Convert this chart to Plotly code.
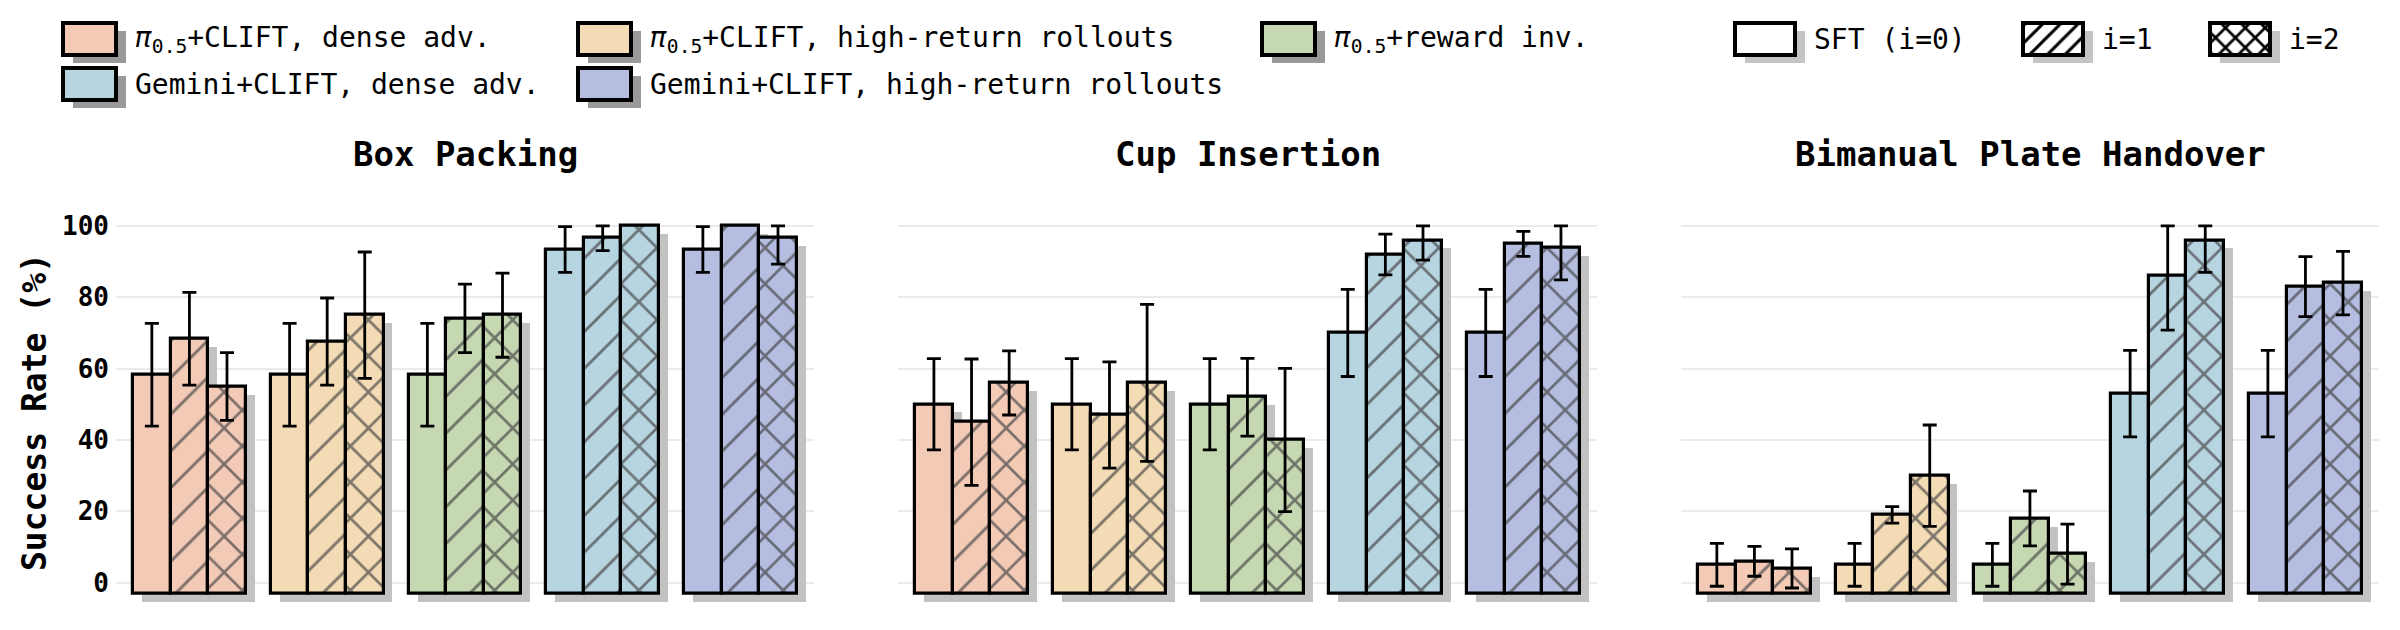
import plotly.graph_objects as go

# ---- data ----
tasks = ["Box Packing", "Cup Insertion", "Bimanual Plate Handover"]
methods = [
    "<i>π</i><sub>0.5</sub>+CLIFT, dense adv.",
    "<i>π</i><sub>0.5</sub>+CLIFT, high-return rollouts",
    "<i>π</i><sub>0.5</sub>+reward inv.",
    "Gemini+CLIFT, dense adv.",
    "Gemini+CLIFT, high-return rollouts",
]
method_colors = ["#F3CAB6", "#F2DBB5", "#C6D8B2", "#B7D4E1", "#B5BEE1"]
iterations = ["SFT (i=0)", "i=1", "i=2"]
iter_hatch = ["", "/", "x"]

# success rate (%) per method, for i=0,1,2
box_mean = [[58.3, 68.4, 55.0], [58.3, 67.6, 75.0], [58.3, 74.1, 75.0], [93.4, 96.7, 100.0], [93.4, 100.0, 96.7]]
box_err = [[14.4, 13.0, 9.5], [14.4, 12.2, 17.7], [14.4, 9.6, 11.8], [6.4, 3.6, 0.0], [6.4, 0.0, 7.4]]

cup_mean = [[50.0, 45.0, 56.0], [50.0, 47.0, 56.0], [50.0, 52.0, 40.0], [70.0, 92.0, 96.0], [70.0, 95.0, 94.0]]
cup_err = [[12.8, 17.7, 9.0], [12.8, 14.9, 22.0], [12.8, 10.9, 20.1], [12.2, 5.7, 5.6], [12.2, 3.5, 9.1]]

hand_mean = [[5.0, 6.0, 4.0], [5.0, 19.0, 30.0], [5.0, 18.0, 8.0], [53.0, 86.0, 96.0], [53.0, 83.0, 84.0]]
hand_err = [[6.0, 4.2, 5.5], [6.0, 2.3, 14.2], [6.0, 7.7, 8.4], [12.1, 15.2, 9.0], [12.1, 8.4, 8.9]]

all_mean = [box_mean, cup_mean, hand_mean]
all_err = [box_err, cup_err, hand_err]

# ---- style ----
# page is 2400x630, the html body has an 8px margin, so the figure is a bit smaller
OX = OY = 8
W, H = 2400 - 2 * OX, 630 - 2 * OY
FONT = "DejaVu Sans Mono"
BW = 0.2727          # bar width
BASE = -3.0          # bars start slightly below zero
SDX, SDY = 0.065, 2.2  # drop shadow offset (x units, y units)
SHADOW = "#c2c2c2"
HATCH_FG = "#333333"


def px(xp):
    return (xp - OX) / W


def py(yp):
    return 1 - (yp - OY) / H


x_domains = [[px(116), px(814)], [px(898), px(1597)], [px(1681), px(2379)]]
y_domain = [py(611.2), py(211.7)]

fig = go.Figure()

for p in range(3):
    xa = "x" if p == 0 else "x%d" % (p + 1)
    ya = "y" if p == 0 else "y%d" % (p + 1)
    mean = all_mean[p]
    err = all_err[p]

    # shadows
    sx, sl = [], []
    for m in range(5):
        for k in range(3):
            sx.append(m + (k - 1) * BW + SDX)
            sl.append(mean[m][k] - BASE)
    fig.add_trace(go.Bar(x=sx, y=sl, base=BASE - SDY, width=BW, xaxis=xa, yaxis=ya,
                         marker=dict(color=SHADOW, line=dict(width=0)),
                         showlegend=False, hoverinfo="skip"))

    # bars, one trace per iteration
    for k in range(3):
        bx = [m + (k - 1) * BW for m in range(5)]
        bl = [mean[m][k] - BASE for m in range(5)]
        marker = dict(color=method_colors, line=dict(color="black", width=3.2))
        if iter_hatch[k]:
            marker["pattern"] = dict(shape=iter_hatch[k], fgcolor=HATCH_FG, fgopacity=0.68,
                                     size=26 if k == 1 else 25.5,
                                     solidity=0.11 if k == 1 else 0.2)
        fig.add_trace(go.Bar(x=bx, y=bl, base=BASE, width=BW, xaxis=xa, yaxis=ya,
                             marker=marker, name=iterations[k], showlegend=False))

    # error bars
    ex, ey, eup, edn = [], [], [], []
    for m in range(5):
        for k in range(3):
            if err[m][k] <= 0:
                continue
            ex.append(m + (k - 1) * BW)
            ey.append(mean[m][k])
            eup.append(min(err[m][k], 100 - mean[m][k]))
            edn.append(err[m][k])
    fig.add_trace(go.Scatter(x=ex, y=ey, mode="markers", xaxis=xa, yaxis=ya,
                             marker=dict(size=1, color="rgba(0,0,0,0)"),
                             error_y=dict(type="data", array=eup, arrayminus=edn, symmetric=False,
                                          color="black", thickness=2.8, width=7),
                             showlegend=False, hoverinfo="skip"))

# ---- legend drawn on an overlay axis in page pixel units ----
LX = "x4"
LY = "y4"
leg_swatches = [  # (left px, top px, width px, fill, hatch, shadow)
    (63, 23, 53, method_colors[0], "", "#999999"),
    (578, 23, 53, method_colors[1], "", "#999999"),
    (1262, 23, 53, method_colors[2], "", "#999999"),
    (63, 68, 53, method_colors[3], "", "#999999"),
    (578, 68, 53, method_colors[4], "", "#999999"),
    (1735, 23, 60, "white", "", "#c4c4c4"),
    (2023, 23, 60, "white", "/", "#c4c4c4"),
    (2210, 23, 60, "white", "x", "#c4c4c4"),
]
leg_labels = methods + iterations
for (lx, ty, sw, fill, hatch, sh), label in zip(leg_swatches, leg_labels):
    fig.add_trace(go.Bar(x=[lx + sw / 2 + 10], y=[32], base=ty + 8, width=sw, xaxis=LX, yaxis=LY,
                         marker=dict(color=sh, line=dict(width=0)), showlegend=False, hoverinfo="skip"))
    marker = dict(color=fill, line=dict(color="black", width=4))
    if hatch:
        marker["pattern"] = dict(shape=hatch, fgcolor="black", fgopacity=1,
                                 size=12.5 if hatch == "/" else 14,
                                 solidity=0.24 if hatch == "/" else 0.35)
    fig.add_trace(go.Bar(x=[lx + sw / 2], y=[32], base=ty, width=sw, xaxis=LX, yaxis=LY,
                         marker=marker, showlegend=False, hoverinfo="skip"))
    fig.add_annotation(text=label, xref="paper", yref="paper", x=px(lx + sw + 17),
                       y=py(ty + 16), xanchor="left", yanchor="middle", showarrow=False,
                       font=dict(family=FONT, size=28, color="black"))

# ---- titles ----
for p in range(3):
    fig.add_annotation(text="<b>%s</b>" % tasks[p], xref="paper", yref="paper",
                       x=(x_domains[p][0] + x_domains[p][1]) / 2, y=py(154),
                       xanchor="center", yanchor="middle", showarrow=False,
                       font=dict(family=FONT, size=34, color="black"))
fig.add_annotation(text="<b>Success Rate (%)</b>", xref="paper", yref="paper", x=px(34), y=py(412),
                   textangle=-90, xanchor="center", yanchor="middle", showarrow=False,
                   font=dict(family=FONT, size=33, color="black"))

# ---- axes ----
layout = dict(
    width=W, height=H, margin=dict(l=0, r=0, t=0, b=0),
    paper_bgcolor="white", plot_bgcolor="white", barmode="overlay", bargap=0,
    font=dict(family=FONT, color="black"),
    xaxis4=dict(domain=[0, 1], range=[OX, OX + W], visible=False, anchor="y4"),
    yaxis4=dict(domain=[py(120), 1], range=[120, OY], visible=False, anchor="x4"),
)
for p in range(3):
    sfx = "" if p == 0 else str(p + 1)
    layout["xaxis" + sfx] = dict(domain=x_domains[p], range=[-0.533, 4.534], showgrid=False,
                                 zeroline=False, showline=False, showticklabels=False, ticks="",
                                 anchor="y" + sfx)
    layout["yaxis" + sfx] = dict(domain=y_domain, range=[-8, 104], tickvals=[0, 20, 40, 60, 80, 100],
                                 ticktext=["<b>%d</b>" % v for v in [0, 20, 40, 60, 80, 100]],
                                 showgrid=True, gridcolor="#ebebeb", gridwidth=1.5, zeroline=False,
                                 showline=False, ticks="", showticklabels=(p == 0), ticklabelstandoff=6,
                                 tickfont=dict(family=FONT, size=26, color="black"),
                                 anchor="x" + sfx)
fig.update_layout(**layout)

fig.write_html("out.html")
